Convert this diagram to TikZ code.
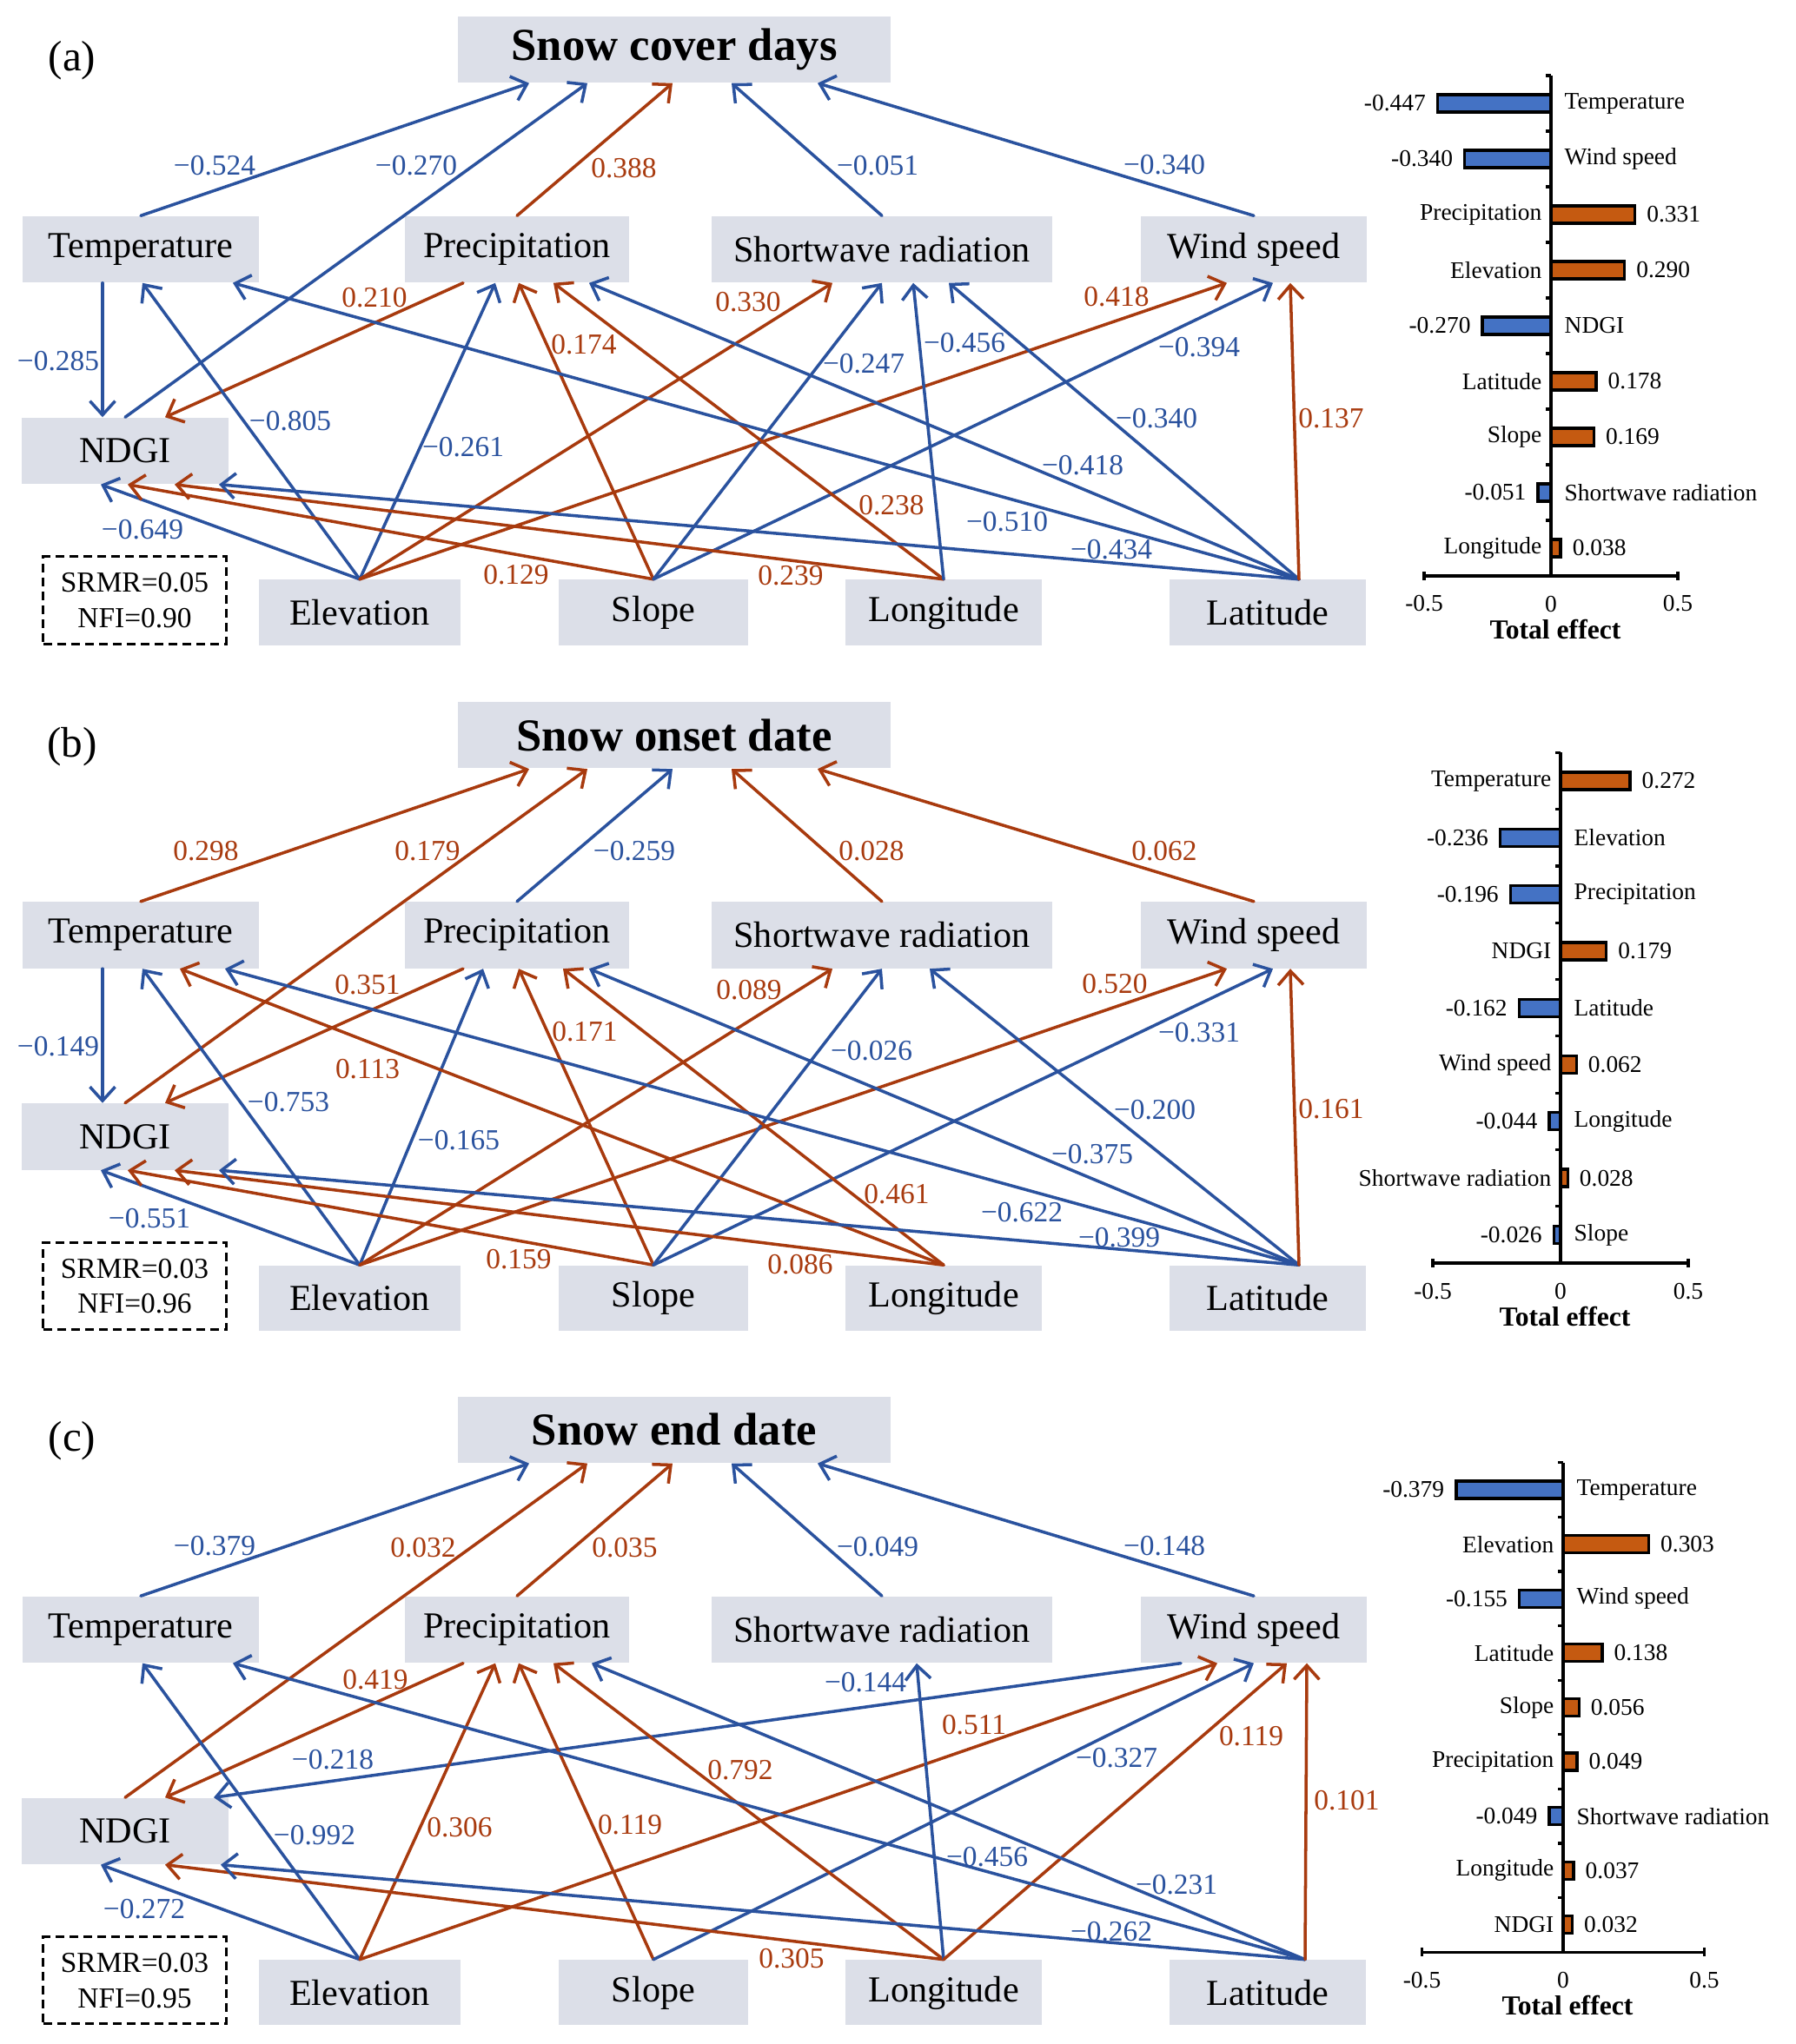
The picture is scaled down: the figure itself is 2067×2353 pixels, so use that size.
\documentclass[tikz,border=0pt]{standalone}
\usepackage{fontspec}
\setmainfont{Liberation Serif}
\usepackage{xcolor}
\usepackage{tikz}
\usetikzlibrary{arrows.meta, calc}

\definecolor{boxgray}{RGB}{220,223,232}
\definecolor{negblue}{RGB}{42,82,158}
\definecolor{posred}{RGB}{168,58,14}
\definecolor{barblue}{RGB}{68,114,196}
\definecolor{barred}{RGB}{197,90,17}

\tikzset{
    varbox/.style={rectangle, fill=boxgray, minimum height=0.76cm, inner sep=0pt, font=\fontsize{12}{14}\selectfont},
    outbox/.style={rectangle, fill=boxgray, minimum width=4.98cm, minimum height=0.76cm, inner sep=0pt, font=\fontsize{15}{18}\selectfont\bfseries},
    fitbox/.style={rectangle, draw, dash pattern=on 1mm off 0.6mm, line width=0.85pt, minimum width=2.1cm, minimum height=1.0cm, align=center, inner sep=0pt, font=\fontsize{9.5}{11.5}\selectfont},
    paneltag/.style={font=\fontsize{14}{16}\selectfont, inner sep=0pt},
    negpath/.style={draw=negblue, line width=1pt, line cap=round, -{Straight Barb[length=1.6mm, width=2.9mm]}},
    pospath/.style={draw=posred, line width=1pt, line cap=round, -{Straight Barb[length=1.6mm, width=2.9mm]}},
    negpath label/.style={text=negblue, font=\fontsize{9.5}{11}\selectfont, inner sep=0pt},
    pospath label/.style={text=posred, font=\fontsize{9.5}{11}\selectfont, inner sep=0pt},
    negbar/.style={fill=barblue, draw=black, line width=0.95pt},
    posbar/.style={fill=barred, draw=black, line width=0.95pt},
    baraxis/.style={line width=0.9pt},
    barval/.style={font=\fontsize{7.8}{9}\selectfont, inner sep=0pt}
}

% boxes of one path model
\newcommand{\sempanel}[4]{%
    \node[paneltag] (#1-tag) at (83,70) {(#1)};
    \node[outbox] (#1-y) at (776,57) {#2};
    \node[varbox, minimum width=2.72cm] (#1-temp) at (162,287) {Temperature};
    \node[varbox, minimum width=2.58cm] (#1-prec) at (595,287) {Precipitation};
    \node[varbox, minimum width=3.92cm] (#1-sw) at (1015,287) {Shortwave radiation};
    \node[varbox, minimum width=2.59cm] (#1-ws) at (1443,287) {Wind speed};
    \node[varbox, minimum width=2.37cm] (#1-ndgi) at (144,519) {NDGI};
    \node[varbox, minimum width=2.32cm, minimum height=0.75cm] (#1-elev) at (414,705) {Elevation};
    \node[varbox, minimum width=2.17cm, minimum height=0.75cm] (#1-slope) at (752,705) {Slope};
    \node[varbox, minimum width=2.25cm, minimum height=0.75cm] (#1-lon) at (1086,705) {Longitude};
    \node[varbox, minimum width=2.25cm, minimum height=0.75cm] (#1-lat) at (1459,705) {Latitude};
    \coordinate (#1-latsrc) at ($(#1-lat.north)+(36,0)$);
    \node[fitbox] (#1-fit) at (155,691) {SRMR=#3\\NFI=#4};
}

% one path with its coefficient
\newcommand{\effectline}[5]{%
    \draw[#1] (#2) -- (#3);
    \node[#1 label] at (#4) {#5};
}

% total effect bars: zero x, px per unit, first row y, row step, list
\newcommand{\effectbars}[5]{%
    \foreach \v/\n [count=\i from 0] in {#5} {
        \pgfmathsetmacro\yy{#3+#4*\i}
        \pgfmathsetmacro\xe{#1+#2*\v}
        \ifdim \v pt<0pt
            \draw[negbar] (\xe,\yy-10) rectangle (#1,\yy+10);
            \node[barval, anchor=east] at (\xe-13,\yy) {\v};
            \node[barval, anchor=west] at (#1+15,\yy) {\n};
        \else
            \draw[posbar] (#1,\yy-10) rectangle (\xe,\yy+10);
            \node[barval, anchor=west] at (\xe+13,\yy) {\v};
            \node[barval, anchor=east] at (#1-10,\yy) {\n};
        \fi
    }
    \pgfmathsetmacro\ytop{#3-#4/2}
    \pgfmathsetmacro\ybot{#3+8.5*#4}
    \foreach \k in {0,...,8} \draw[baraxis] (#1-6,\ytop+#4*\k) -- (#1,\ytop+#4*\k);
    \draw[baraxis] (#1,\ytop) -- (#1,\ybot);
    \draw[baraxis] (#1-#2/2,\ybot) -- (#1+#2/2,\ybot);
    \draw[baraxis] (#1-#2/2,\ybot-5) -- (#1-#2/2,\ybot+5);
    \draw[baraxis] (#1+#2/2,\ybot-5) -- (#1+#2/2,\ybot+5);
    \node[barval] at (#1-#2/2,\ybot+32) {-0.5};
    \node[barval] at (#1,\ybot+32) {0};
    \node[barval] at (#1+#2/2,\ybot+32) {0.5};
    \node[font=\fontsize{9}{11}\selectfont\bfseries, inner sep=0pt] at (#1+5,\ybot+61) {Total effect};
}

\begin{document}
\begin{tikzpicture}[x=0.01cm, y=-0.01cm]
\useasboundingbox (0,0) rectangle (2067,2353);

% (a) snow cover days
\begin{scope}
    \sempanel{a}{Snow cover days}{0.05}{0.90}
    \effectline{negpath}{a-temp.north}{$(a-y.south)+(-167,0)$}{247,191}{−0.524}
    \effectline{negpath}{a-ndgi.north}{$(a-y.south)+(-100,0)$}{479,191}{−0.270}
    \effectline{pospath}{a-prec.north}{$(a-y.south)+(-2,0)$}{718,194}{0.388}
    \effectline{negpath}{a-sw.north}{$(a-y.south)+(66,0)$}{1010,191}{−0.051}
    \effectline{negpath}{a-ws.north}{$(a-y.south)+(165,0)$}{1340,190}{−0.340}
    \effectline{negpath}{$(a-temp.south)+(-44,0)$}{$(a-ndgi.north)+(-26,0)$}{67,416}{−0.285}
    \effectline{pospath}{$(a-prec.south)+(-62,0)$}{$(a-ndgi.north)+(46,0)$}{431,343}{0.210}
    \effectline{negpath}{a-elev.north}{$(a-temp.south)+(2,0)$}{334,485}{−0.805}
    \effectline{negpath}{a-elev.north}{$(a-prec.south)+(-25,0)$}{533,515}{−0.261}
    \effectline{negpath}{a-elev.north}{$(a-ndgi.south)+(-28,0)$}{164,610}{−0.649}
    \effectline{pospath}{a-elev.north}{$(a-sw.south)+(-57,0)$}{861,348}{0.330}
    \effectline{pospath}{a-elev.north}{$(a-ws.south)+(-31,0)$}{1285,342}{0.418}
    \effectline{pospath}{a-slope.north}{$(a-ndgi.south)+(3,0)$}{594,662}{0.129}
    \effectline{pospath}{a-slope.north}{$(a-prec.south)+(2,0)$}{672,397}{0.174}
    \effectline{negpath}{a-slope.north}{a-sw.south}{994,419}{−0.247}
    \effectline{negpath}{a-slope.north}{$(a-ws.south)+(22,0)$}{1380,400}{−0.394}
    \effectline{pospath}{a-lon.north}{$(a-ndgi.south)+(57,0)$}{910,663}{0.239}
    \effectline{pospath}{a-lon.north}{$(a-prec.south)+(42,0)$}{1026,582}{0.238}
    \effectline{negpath}{a-lon.north}{$(a-sw.south)+(36,0)$}{1110,395}{−0.456}
    \effectline{negpath}{a-latsrc}{$(a-temp.south)+(106,0)$}{1159,601}{−0.510}
    \effectline{negpath}{a-latsrc}{$(a-prec.south)+(83,0)$}{1246,536}{−0.418}
    \effectline{negpath}{a-latsrc}{$(a-sw.south)+(77,0)$}{1331,482}{−0.340}
    \effectline{negpath}{a-latsrc}{$(a-ndgi.south)+(108,0)$}{1279,633}{−0.434}
    \effectline{pospath}{a-latsrc}{$(a-ws.south)+(42,0)$}{1532,482}{0.137}
\end{scope}

% (b) snow onset date
\begin{scope}[yshift=-7.89cm]
    \sempanel{b}{Snow onset date}{0.03}{0.96}
    \effectline{pospath}{b-temp.north}{$(b-y.south)+(-167,0)$}{237,190}{0.298}
    \effectline{pospath}{b-ndgi.north}{$(b-y.south)+(-100,0)$}{492,190}{0.179}
    \effectline{negpath}{b-prec.north}{$(b-y.south)+(-2,0)$}{730,190}{−0.259}
    \effectline{pospath}{b-sw.north}{$(b-y.south)+(66,0)$}{1003,190}{0.028}
    \effectline{pospath}{b-ws.north}{$(b-y.south)+(165,0)$}{1340,190}{0.062}
    \effectline{negpath}{$(b-temp.south)+(-44,0)$}{$(b-ndgi.north)+(-26,0)$}{67,415}{−0.149}
    \effectline{pospath}{$(b-prec.south)+(-62,0)$}{$(b-ndgi.north)+(46,0)$}{423,344}{0.351}
    \effectline{negpath}{b-elev.north}{$(b-temp.south)+(2,0)$}{332,479}{−0.753}
    \effectline{negpath}{b-elev.north}{$(b-prec.south)+(-39,0)$}{528,523}{−0.165}
    \effectline{negpath}{b-elev.north}{$(b-ndgi.south)+(-28,0)$}{172,613}{−0.551}
    \effectline{pospath}{b-elev.north}{$(b-sw.south)+(-57,0)$}{862,350}{0.089}
    \effectline{pospath}{b-elev.north}{$(b-ws.south)+(-31,0)$}{1283,343}{0.520}
    \effectline{pospath}{b-slope.north}{$(b-ndgi.south)+(3,0)$}{597,660}{0.159}
    \effectline{pospath}{b-slope.north}{$(b-prec.south)+(2,0)$}{673,398}{0.171}
    \effectline{negpath}{b-slope.north}{b-sw.south}{1003,420}{−0.026}
    \effectline{negpath}{b-slope.north}{$(b-ws.south)+(22,0)$}{1380,399}{−0.331}
    \effectline{pospath}{b-lon.north}{$(b-temp.south)+(45,0)$}{423,441}{0.113}
    \effectline{pospath}{b-lon.north}{$(b-ndgi.south)+(57,0)$}{921,666}{0.086}
    \effectline{pospath}{b-lon.north}{$(b-prec.south)+(53,0)$}{1032,585}{0.461}
    \effectline{negpath}{b-latsrc}{$(b-temp.south)+(97,0)$}{1176,606}{−0.622}
    \effectline{negpath}{b-latsrc}{$(b-prec.south)+(83,0)$}{1257,539}{−0.375}
    \effectline{negpath}{b-latsrc}{$(b-ndgi.south)+(108,0)$}{1288,635}{−0.399}
    \effectline{negpath}{b-latsrc}{$(b-sw.south)+(55,0)$}{1329,488}{−0.200}
    \effectline{pospath}{b-latsrc}{$(b-ws.south)+(42,0)$}{1532,487}{0.161}
\end{scope}

% (c) snow end date
\begin{scope}[yshift=-15.88cm]
    \sempanel{c}{Snow end date}{0.03}{0.95}
    \coordinate (c-latsrc) at ($(c-lat.north)+(43,0)$);
    \effectline{negpath}{c-temp.north}{$(c-y.south)+(-167,0)$}{247,191}{−0.379}
    \effectline{pospath}{c-ndgi.north}{$(c-y.south)+(-100,0)$}{487,193}{0.032}
    \effectline{pospath}{c-prec.north}{$(c-y.south)+(-2,0)$}{719,193}{0.035}
    \effectline{negpath}{c-sw.north}{$(c-y.south)+(66,0)$}{1010,192}{−0.049}
    \effectline{negpath}{c-ws.north}{$(c-y.south)+(165,0)$}{1340,191}{−0.148}
    \effectline{pospath}{$(c-prec.south)+(-62,0)$}{$(c-ndgi.north)+(46,0)$}{432,345}{0.419}
    \effectline{negpath}{$(c-ws.south)+(-84,0)$}{$(c-ndgi.north)+(102,0)$}{383,437}{−0.218}
    \effectline{negpath}{c-elev.north}{$(c-temp.south)+(2,0)$}{362,524}{−0.992}
    \effectline{pospath}{c-elev.north}{$(c-prec.south)+(-25,0)$}{529,515}{0.306}
    \effectline{negpath}{c-elev.north}{$(c-ndgi.south)+(-28,0)$}{166,609}{−0.272}
    \effectline{pospath}{c-elev.north}{$(c-ws.south)+(-42,0)$}{1121,397}{0.511}
    \effectline{pospath}{c-slope.north}{$(c-prec.south)+(2,0)$}{725,512}{0.119}
    \effectline{negpath}{c-slope.north}{c-ws.south}{1285,435}{−0.327}
    \effectline{pospath}{c-lon.north}{$(c-ndgi.south)+(46,0)$}{911,666}{0.305}
    \effectline{pospath}{c-lon.north}{$(c-prec.south)+(42,0)$}{852,449}{0.792}
    \effectline{negpath}{c-lon.north}{$(c-sw.south)+(40,0)$}{996,348}{−0.144}
    \effectline{pospath}{c-lon.north}{$(c-ws.south)+(38,0)$}{1440,410}{0.119}
    \effectline{negpath}{c-latsrc}{$(c-temp.south)+(106,0)$}{1136,549}{−0.456}
    \effectline{negpath}{c-latsrc}{$(c-prec.south)+(86,0)$}{1354,581}{−0.231}
    \effectline{negpath}{c-latsrc}{$(c-ndgi.south)+(110,0)$}{1279,635}{−0.262}
    \effectline{pospath}{c-latsrc}{$(c-ws.south)+(61,0)$}{1550,484}{0.101}
\end{scope}

% total effects
\effectbars{1785}{292}{119}{64}{-0.447/Temperature, -0.340/Wind speed, 0.331/Precipitation, 0.290/Elevation, -0.270/NDGI, 0.178/Latitude, 0.169/Slope, -0.051/Shortwave radiation, 0.038/Longitude}
\effectbars{1796}{294}{899}{65.3}{0.272/Temperature, -0.236/Elevation, -0.196/Precipitation, 0.179/NDGI, -0.162/Latitude, 0.062/Wind speed, -0.044/Longitude, 0.028/Shortwave radiation, -0.026/Slope}
\effectbars{1799}{325}{1715}{62.6}{-0.379/Temperature, 0.303/Elevation, -0.155/Wind speed, 0.138/Latitude, 0.056/Slope, 0.049/Precipitation, -0.049/Shortwave radiation, 0.037/Longitude, 0.032/NDGI}
\end{tikzpicture}
\end{document}
